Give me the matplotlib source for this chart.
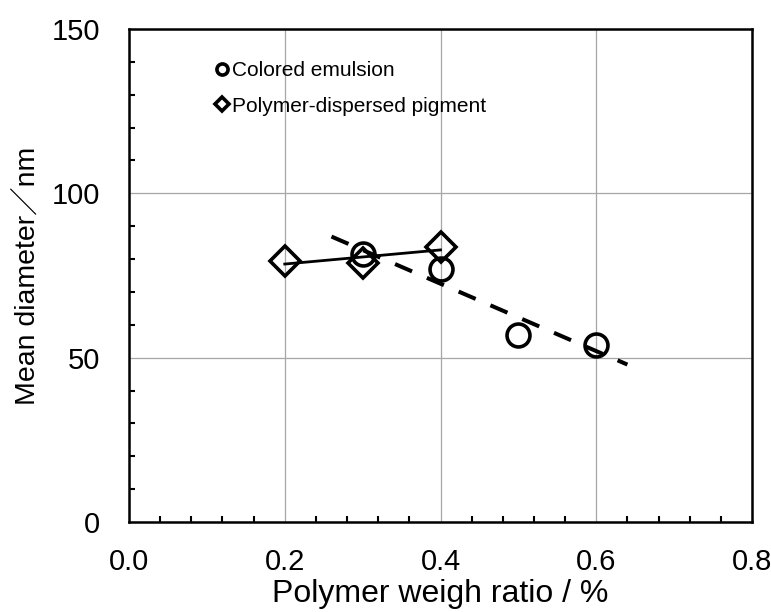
import numpy as np
import matplotlib
matplotlib.use("Agg")
import matplotlib.pyplot as plt
from matplotlib.lines import Line2D
from matplotlib.ticker import MultipleLocator, FormatStrFormatter

plt.rcParams['font.family'] = ['Liberation Sans', 'Noto Sans CJK JP', 'DejaVu Sans']

# Colored emulsion
emulsion_x = [0.3, 0.4, 0.5, 0.6]
emulsion_y = [81.5, 77.0, 57.0, 54.0]

# Polymer-dispersed pigment
pigment_x = [0.2, 0.3, 0.4]
pigment_y = [79.4, 78.8, 83.7]

legend_labels = ["Colored emulsion", "Polymer-dispersed pigment"]
x_label = "Polymer weigh ratio / %"
y_label = "Mean diameter／nm"

fig = plt.figure(figsize=(7.71, 6.12), dpi=100)
ax = fig.add_axes([129 / 771, 90 / 612, 623 / 771, 493 / 612])

ax.set_xlim(0.0, 0.8)
ax.set_ylim(0, 150)

# grid and axes styling
ax.xaxis.set_major_locator(MultipleLocator(0.2))
ax.xaxis.set_minor_locator(MultipleLocator(0.04))
ax.yaxis.set_major_locator(MultipleLocator(50))
ax.yaxis.set_minor_locator(MultipleLocator(10))
ax.xaxis.set_major_formatter(FormatStrFormatter('%.1f'))
ax.grid(True, which='major', color='#a6a6a6', linewidth=0.9)
ax.set_axisbelow(True)
for s in ax.spines.values():
    s.set_linewidth(1.8)
    s.set_color('black')
ax.tick_params(which='major', length=0, labelsize=21)
ax.tick_params(axis='x', which='major', pad=19)
ax.tick_params(axis='y', which='major', pad=21)
ax.tick_params(which='minor', direction='in', length=4.5, width=1.5,
               bottom=True, left=True, top=False, right=False)

mk = dict(linestyle='none', markerfacecolor='none', markeredgecolor='black',
          markeredgewidth=2.6)
ax.plot(emulsion_x, emulsion_y, marker='o', markersize=16.5, zorder=3, **mk)
ax.plot(pigment_x, pigment_y, marker='D', markersize=15.5, zorder=3, **mk)

# linear trendlines
ext = 0.04
ce = np.polyfit(emulsion_x, emulsion_y, 1)
xe = np.array([min(emulsion_x) - ext, max(emulsion_x) + ext])
ax.plot(xe, np.polyval(ce, xe), color='black', linewidth=2.9,
        dashes=(4.6, 4.0), dash_capstyle='butt', zorder=4)

cp = np.polyfit(pigment_x, pigment_y, 1)
xp = np.array([min(pigment_x), max(pigment_x)])
ax.plot(xp, np.polyval(cp, xp), color='black', linewidth=2.0, zorder=4)

handles = [
    Line2D([], [], marker='o', markersize=8, **mk),
    Line2D([], [], marker='D', markersize=7.5, **mk),
]
ax.legend(handles, legend_labels, loc='upper left',
          bbox_to_anchor=(0.139, 0.935), frameon=False, fontsize=15,
          handlelength=0.6, handletextpad=0.2, labelspacing=0.8,
          borderpad=0, borderaxespad=0)

ax.set_xlabel(x_label, fontsize=23, labelpad=2)
ax.set_ylabel(y_label, fontsize=20.5, labelpad=8)

fig.savefig("out.png", dpi=100)
